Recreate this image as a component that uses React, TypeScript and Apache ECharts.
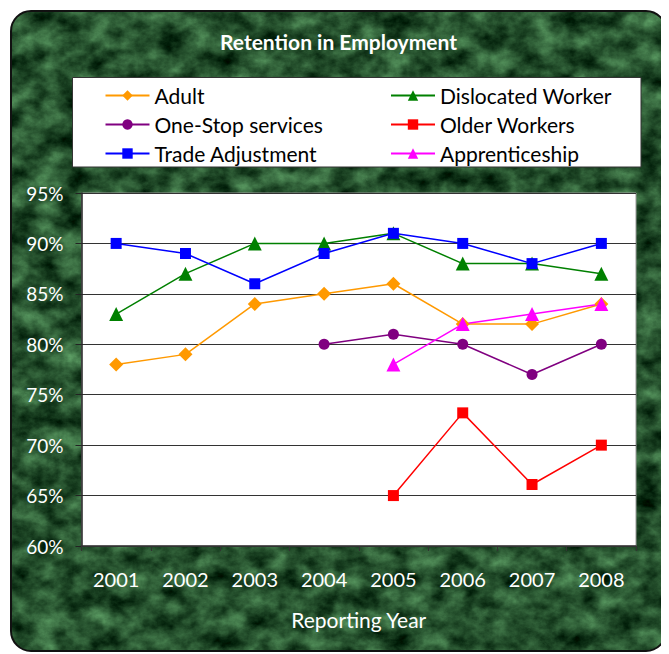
import React, { useEffect, useRef } from "react";
import * as echarts from "echarts";

const years = ["2001", "2002", "2003", "2004", "2005", "2006", "2007", "2008"];
const adult = [78, 79, 84, 85, 86, 82, 82, 84];
const dislocated = [83, 87, 90, 90, 91, 88, 88, 87];
const oneStop = [null, null, null, 80, 81, 80, 77, 80];
const older = [null, null, null, null, 65, 73.2, 66.1, 70];
const trade = [90, 89, 86, 89, 91, 90, 88, 90];
const apprentice = [null, null, null, null, 78, 82, 83, 84];

const FONT = "Lato, 'Open Sans', sans-serif";

const bgW = 657;
const bgH = 642;
const marbleSvg =
  `<svg xmlns='http://www.w3.org/2000/svg' width='${bgW}' height='${bgH}'>` +
  `<defs><filter id='f' x='0' y='0' width='100%' height='100%' color-interpolation-filters='sRGB'>` +
  `<feTurbulence type='fractalNoise' baseFrequency='0.04 0.05' numOctaves='5' seed='11' result='t'/>` +
  `<feColorMatrix in='t' type='matrix' values='0.5 0 0 0 -0.1  0.7 0 0 0 -0.03  0.5 0 0 0 -0.07  0 0 0 0 1' result='c'/>` +
  `<feComposite in='c' in2='SourceGraphic' operator='in'/>` +
  `</filter></defs>` +
  `<rect x='1' y='1' width='${bgW - 2}' height='${bgH - 2}' rx='20' ry='20' fill='#000' filter='url(#f)'/>` +
  `<rect x='1' y='1' width='${bgW - 2}' height='${bgH - 2}' rx='20' ry='20' fill='none' stroke='#111' stroke-width='2'/>` +
  `</svg>`;
const marbleUri = "data:image/svg+xml;charset=utf-8," + encodeURIComponent(marbleSvg);

function mk(name: string, data: (number | null)[], color: string, symbol: string, size: number) {
  return {
    name,
    type: "line",
    data,
    symbol,
    symbolSize: size,
    connectNulls: false,
    lineStyle: { color, width: 1.5 },
    itemStyle: { color },
  };
}

export default function App() {
  const ref = useRef<HTMLDivElement>(null);
  useEffect(() => {
    if (!ref.current) return;
    const chart = echarts.init(ref.current, null, { renderer: "svg" });
    const legendText = { color: "#000", fontSize: 21, fontFamily: FONT, lineHeight: 20 };
    chart.setOption({
      animation: false,
      textStyle: { fontFamily: FONT },
      title: {
        text: "Retention in Employment",
        left: "center",
        top: 18,
        textStyle: { color: "#fff", fontSize: 21, fontWeight: "bold", fontFamily: FONT },
      },
      graphic: [
        {
          type: "image",
          x: 2,
          y: 2,
          z: -10,
          silent: true,
          style: { image: marbleUri, width: bgW, height: bgH },
        },
        {
          type: "rect",
          x: 64.5,
          y: 69.5,
          z: -5,
          silent: true,
          shape: { width: 568.5, height: 89.5 },
          style: { fill: "#fff", stroke: "#333", lineWidth: 1 },
        },
      ],
      legend: [
        {
          orient: "vertical",
          left: 96.5,
          top: 77,
          padding: 0,
          itemWidth: 44,
          itemHeight: 13,
          itemGap: 8,
          textStyle: legendText,
          data: ["Adult", "One-Stop services", "Trade Adjustment"],
        },
        {
          orient: "vertical",
          left: 382,
          top: 77,
          padding: 0,
          itemWidth: 44,
          itemHeight: 13,
          itemGap: 8,
          textStyle: legendText,
          data: ["Dislocated Worker", "Older Workers", "Apprenticeship"],
        },
      ],
      grid: {
        left: 73.5,
        right: 33,
        top: 185,
        bottom: 108,
        show: true,
        backgroundColor: "#fff",
        borderColor: "#999",
        borderWidth: 1,
      },
      xAxis: {
        type: "category",
        data: years,
        boundaryGap: true,
        name: "Reporting Year",
        nameLocation: "middle",
        nameGap: 63,
        nameTextStyle: { color: "#fff", fontSize: 21, fontFamily: FONT },
        axisLine: { show: true, lineStyle: { color: "#333", width: 1.5 } },
        axisTick: { show: true, alignWithLabel: false, length: 5, lineStyle: { color: "#333" } },
        axisLabel: { color: "#fff", fontSize: 20, margin: 23, fontFamily: FONT },
        splitLine: { show: false },
      },
      yAxis: {
        type: "value",
        min: 60,
        max: 95,
        interval: 5,
        axisLine: { show: true, lineStyle: { color: "#222", width: 1.5 } },
        axisTick: { show: true, length: 6, lineStyle: { color: "#222" } },
        axisLabel: { color: "#fff", fontSize: 19, margin: 18, formatter: "{value}%", fontFamily: FONT },
        splitLine: { show: true, lineStyle: { color: "#333", width: 1 } },
      },
      series: [
        mk("Adult", adult, "#FF9900", "diamond", 14),
        mk("Dislocated Worker", dislocated, "#008000", "triangle", 14),
        mk("One-Stop services", oneStop, "#800080", "circle", 11),
        mk("Older Workers", older, "#FF0000", "rect", 11),
        mk("Trade Adjustment", trade, "#0000FF", "rect", 11),
        mk("Apprenticeship", apprentice, "#FF00FF", "triangle", 14),
      ],
    });
    return () => chart.dispose();
  }, []);
  return <div ref={ref} style={{ width: 661, height: 646 }} />;
}
